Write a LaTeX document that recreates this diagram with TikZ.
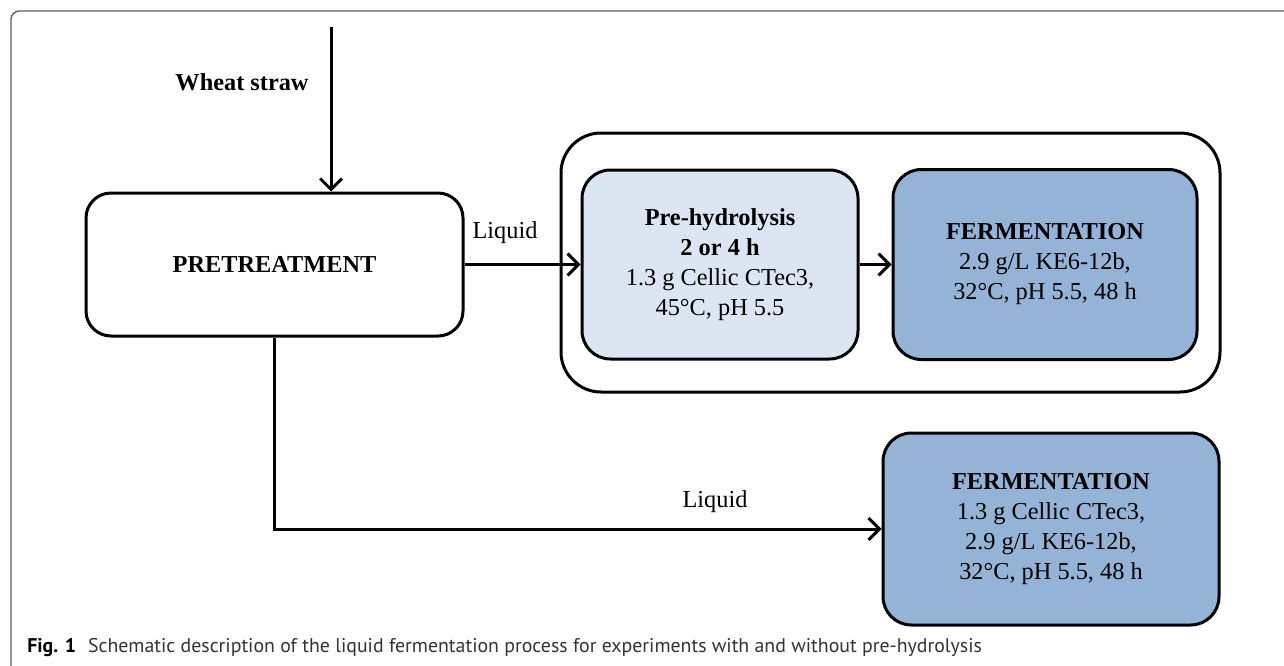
\documentclass[tikz,border=0pt]{standalone}
\usepackage{fontspec}
\setmainfont{Liberation Serif}
\newfontfamily\capfont{PT Sans}
\usetikzlibrary{arrows.meta,positioning}
\definecolor{prefill}{HTML}{DCE6F2}
\definecolor{fermfill}{HTML}{95B3D7}

\begin{document}
\begin{tikzpicture}[
x=0.6pt,y=-0.6pt,
font=\fontsize{14.6}{18}\selectfont,
stage/.style={draw,line width=1.8pt,align=center,inner sep=2pt},
flow/.style={line width=1.8pt,-{Straight Barb[length=6.5pt,width=13pt]}}
]

\useasboundingbox (0,0) rectangle (1284,666);

%%%%%%%%%%%%%%%%%%%%%%%%%%%%%%%%%%%%%%%%%%%%%%%%%%%%%%%%%%%%
% OUTER FRAME
%%%%%%%%%%%%%%%%%%%%%%%%%%%%%%%%%%%%%%%%%%%%%%%%%%%%%%%%%%%%

\draw[black!65,line width=0.8pt,rounded corners=5pt]
(11,670) -- (11,11) -- (1290,11);

%%%%%%%%%%%%%%%%%%%%%%%%%%%%%%%%%%%%%%%%%%%%%%%%%%%%%%%%%%%%
% Pretreatment
%%%%%%%%%%%%%%%%%%%%%%%%%%%%%%%%%%%%%%%%%%%%%%%%%%%%%%%%%%%%

\node[
stage,
rounded corners=15pt,
minimum width=226.2pt,
minimum height=85.8pt
](pretreat)
at (274.5,264.5)
{\textbf{PRETREATMENT}};

\coordinate (straw) at (331,27);

\node[font=\fontsize{14.6}{18}\bfseries](wheat)
at (242,82)
{Wheat straw};

\draw[flow] (straw) -- (straw |- pretreat.north);

%%%%%%%%%%%%%%%%%%%%%%%%%%%%%%%%%%%%%%%%%%%%%%%%%%%%%%%%%%%%
% Pre-hydrolysis + fermentation
%%%%%%%%%%%%%%%%%%%%%%%%%%%%%%%%%%%%%%%%%%%%%%%%%%%%%%%%%%%%

\node[
draw,
line width=1.8pt,
rounded corners=24pt,
minimum width=395.4pt,
minimum height=155.4pt
](group)
at (890.5,262.5)
{};

\node[
stage,
fill=prefill,
rounded corners=17pt,
minimum width=165.6pt,
minimum height=113.4pt
](prehyd)
at (720,264.5)
{\textbf{Pre-hydrolysis}\\\textbf{2 or 4 h}\\1.3 g Cellic CTec3,\\45°C, pH 5.5};

\node[
stage,
fill=fermfill,
rounded corners=17pt,
minimum width=182.4pt,
minimum height=114pt
](ferm)
at (1045,264.5)
{\textbf{FERMENTATION}\\2.9 g/L KE6-12b,\\32°C, pH 5.5, 48 h};

\draw[flow] (pretreat.east) -- (prehyd.west);
\draw[flow] (prehyd.east) -- (ferm.west);

\node(liquidtop) at (505,233) {Liquid};

%%%%%%%%%%%%%%%%%%%%%%%%%%%%%%%%%%%%%%%%%%%%%%%%%%%%%%%%%%%%
% Fermentation without pre-hydrolysis
%%%%%%%%%%%%%%%%%%%%%%%%%%%%%%%%%%%%%%%%%%%%%%%%%%%%%%%%%%%%

\node[
stage,
fill=fermfill,
rounded corners=17pt,
minimum width=201.6pt,
minimum height=115.2pt
](fermdirect)
at (1051,529)
{\textbf{FERMENTATION}\\1.3 g Cellic CTec3,\\2.9 g/L KE6-12b,\\32°C, pH 5.5, 48 h};

\draw[flow] (pretreat.south) |- (fermdirect.west);

\node(liquidlow) at (715,502) {Liquid};

%%%%%%%%%%%%%%%%%%%%%%%%%%%%%%%%%%%%%%%%%%%%%%%%%%%%%%%%%%%%
% Caption
%%%%%%%%%%%%%%%%%%%%%%%%%%%%%%%%%%%%%%%%%%%%%%%%%%%%%%%%%%%%

\node[
anchor=base west,
inner sep=0pt,
font=\capfont\fontsize{11.9}{14}\selectfont,
text=black!80
](caption)
at (27,652)
{\textcolor{black}{\textbf{Fig. 1}}\hspace{0.6em}Schematic description of the liquid fermentation process for experiments with and without pre-hydrolysis};

\end{tikzpicture}
\end{document}
